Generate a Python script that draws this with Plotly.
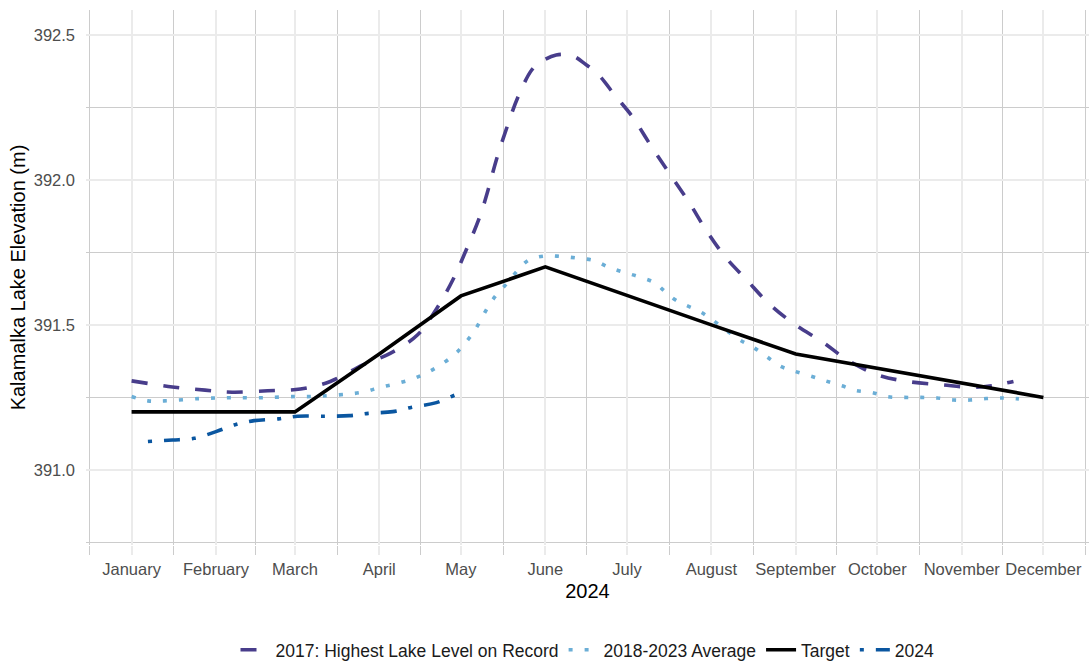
import pandas as pd
import plotly.graph_objects as go

# ---------------- data ----------------
dates_2017 = ["2024-01-01", "2024-01-16", "2024-01-28", "2024-02-07", "2024-02-20", "2024-03-03",
              "2024-03-14", "2024-03-26", "2024-04-05", "2024-04-15", "2024-04-22", "2024-04-28",
              "2024-05-03", "2024-05-08", "2024-05-11", "2024-05-14", "2024-05-18", "2024-05-22",
              "2024-05-27", "2024-05-30", "2024-06-05", "2024-06-11", "2024-06-16", "2024-06-20",
              "2024-06-27", "2024-07-03", "2024-07-10", "2024-07-17", "2024-07-24", "2024-07-30",
              "2024-08-06", "2024-08-14", "2024-08-22", "2024-08-31", "2024-09-11", "2024-09-20",
              "2024-10-01", "2024-10-12", "2024-10-25", "2024-11-05", "2024-11-12", "2024-11-20"]
level_2017 = [391.307, 391.286, 391.275, 391.268, 391.273, 391.279,
              391.305, 391.362, 391.402, 391.465, 391.555, 391.655,
              391.760, 391.875, 391.966, 392.069, 392.184, 392.287,
              392.379, 392.405, 392.431, 392.428, 392.397, 392.368,
              392.287, 392.218, 392.115, 392.017, 391.920, 391.828,
              391.736, 391.655, 391.575, 391.506, 391.440, 391.379,
              391.328, 391.305, 391.293, 391.285, 391.290, 391.305]

dates_avg = ["2024-01-01", "2024-01-07", "2024-01-13", "2024-01-26", "2024-02-06", "2024-02-18",
             "2024-03-01", "2024-03-07", "2024-03-26", "2024-04-01", "2024-04-07", "2024-04-13",
             "2024-04-18", "2024-04-23", "2024-04-28", "2024-05-01", "2024-05-06", "2024-05-11",
             "2024-05-14", "2024-05-18", "2024-05-22", "2024-05-26", "2024-06-01", "2024-06-07",
             "2024-06-13", "2024-06-19", "2024-06-24", "2024-06-29", "2024-07-05", "2024-07-11",
             "2024-07-15", "2024-07-19", "2024-07-28", "2024-08-01", "2024-08-11", "2024-08-16",
             "2024-08-21", "2024-08-26", "2024-08-31", "2024-09-07", "2024-09-12", "2024-09-18",
             "2024-09-23", "2024-09-29", "2024-10-05", "2024-10-11", "2024-10-17", "2024-10-23",
             "2024-10-29", "2024-11-04", "2024-11-10", "2024-11-16", "2024-11-22"]
level_avg = [391.253, 391.238, 391.238, 391.246, 391.249, 391.249,
             391.253, 391.253, 391.268, 391.284, 391.297, 391.313,
             391.333, 391.359, 391.393, 391.420, 391.480, 391.563,
             391.603, 391.644, 391.690, 391.724, 391.738, 391.736,
             391.730, 391.722, 391.700, 391.684, 391.667, 391.646,
             391.615, 391.585, 391.545, 391.520, 391.451, 391.425,
             391.393, 391.359, 391.342, 391.322, 391.307, 391.290,
             391.274, 391.267, 391.252, 391.250, 391.250, 391.248,
             391.241, 391.241, 391.246, 391.248, 391.245]

dates_target = ["2024-01-01", "2024-02-01", "2024-03-01", "2024-04-01", "2024-05-01", "2024-06-01",
                "2024-07-01", "2024-08-01", "2024-09-01", "2024-10-01", "2024-11-01", "2024-12-01"]
level_target = [391.2, 391.2, 391.2, 391.4, 391.6, 391.7,
                391.6, 391.5, 391.4, 391.35, 391.3, 391.25]

dates_2024 = ["2024-01-07", "2024-01-16", "2024-01-24", "2024-02-01", "2024-02-08", "2024-02-15",
              "2024-02-24", "2024-03-02", "2024-03-12", "2024-03-21", "2024-03-28", "2024-04-06",
              "2024-04-13", "2024-04-22", "2024-04-29", "2024-05-01"]
level_2024 = [391.098, 391.103, 391.109, 391.132, 391.156, 391.170,
              391.176, 391.185, 391.185, 391.187, 391.195, 391.201,
              391.216, 391.232, 391.259, 391.265]

month_ticks = ["2024-01-01", "2024-02-01", "2024-03-01", "2024-04-01", "2024-05-01", "2024-06-01",
               "2024-07-01", "2024-08-01", "2024-09-01", "2024-10-01", "2024-11-01", "2024-12-01"]
month_labels = ["January", "February", "March", "April", "May", "June",
                "July", "August", "September", "October", "November", "December"]
y_ticks = [391.0, 391.5, 392.0, 392.5]
y_minor = [390.75, 391.25, 391.75, 392.25]

series_names = ["2017: Highest Lake Level on Record", "2018-2023 Average", "Target", "2024"]

# ---------------- layout helpers ----------------
FONT = "Liberation Sans, Arial, sans-serif"
maj = pd.to_datetime(month_ticks)
span = maj[-1] - maj[0]
pad = span * 0.05
x_range = [maj[0] - pad, maj[-1] + pad]
ext = [maj[0] - pd.DateOffset(months=1)] + list(maj) + [maj[-1] + pd.DateOffset(months=1)]
minor_x = [ext[i] + (ext[i + 1] - ext[i]) / 2 for i in range(len(ext) - 1)]
minor_x = [m for m in minor_x if x_range[0] <= m <= x_range[1]]

fig = go.Figure()
fig.add_trace(go.Scatter(x=pd.to_datetime(dates_2017), y=level_2017, mode="lines",
                         name=series_names[0], line_shape="spline",
                         line=dict(color="#483D8B", width=3.6, dash="16px,16px")))
fig.add_trace(go.Scatter(x=pd.to_datetime(dates_avg), y=level_avg, mode="lines",
                         name=series_names[1], line_shape="spline",
                         line=dict(color="#6BAED6", width=3.6, dash="4px,12px")))
fig.add_trace(go.Scatter(x=pd.to_datetime(dates_target), y=level_target, mode="lines",
                         name=series_names[2],
                         line=dict(color="#000000", width=3.6)))
fig.add_trace(go.Scatter(x=pd.to_datetime(dates_2024), y=level_2024, mode="lines",
                         name=series_names[3], line_shape="spline",
                         line=dict(color="#0A56A0", width=3.6, dash="4px,12px,16px,12px")))

fig.update_layout(
    width=1089, height=663,
    margin=dict(l=86, r=0, t=10, b=118, autoexpand=False),
    paper_bgcolor="white", plot_bgcolor="white",
    font=dict(family=FONT, size=16, color="#4D4D4D"),
    showlegend=True,
    legend=dict(orientation="h", x=0.5, xanchor="center", y=-0.196, yanchor="middle",
                font=dict(size=17.5, color="#1A1A1A"), bgcolor="rgba(0,0,0,0)"),
    xaxis=dict(
        type="date", range=x_range, automargin=False,
        tickmode="array", tickvals=list(maj), ticktext=month_labels,
        showgrid=True, gridcolor="#EBEBEB", gridwidth=2,
        ticks="outside", ticklen=9, tickcolor="#EBEBEB", tickwidth=2,
        tickfont=dict(size=16.5, color="#4D4D4D"),
        zeroline=False, showline=False,
        minor=dict(tickmode="array", tickvals=minor_x, showgrid=True, gridcolor="#CCCCCC",
                   gridwidth=1, ticks="outside", ticklen=9, tickcolor="#CCCCCC", tickwidth=1),
        title=dict(text="2024", font=dict(size=20, color="#000000"), standoff=7),
    ),
    yaxis=dict(
        range=[390.741, 392.586], automargin=False,
        tickmode="array", tickvals=y_ticks, ticktext=[f"{v:.1f}" for v in y_ticks],
        showgrid=True, gridcolor="#EBEBEB", gridwidth=2,
        ticks="", ticklabelstandoff=10,
        tickfont=dict(size=16.5, color="#4D4D4D"),
        zeroline=False, showline=False,
        minor=dict(tickmode="array", tickvals=y_minor, showgrid=True, gridcolor="#CCCCCC",
                   gridwidth=1, ticks=""),
        title=dict(text="Kalamalka Lake Elevation (m)", font=dict(size=20, color="#000000"),
                   standoff=2),
    ),
)

fig.write_html("out.html", config={"displayModeBar": False},
               post_script="document.body.style.margin='0';document.body.style.padding='0';")
